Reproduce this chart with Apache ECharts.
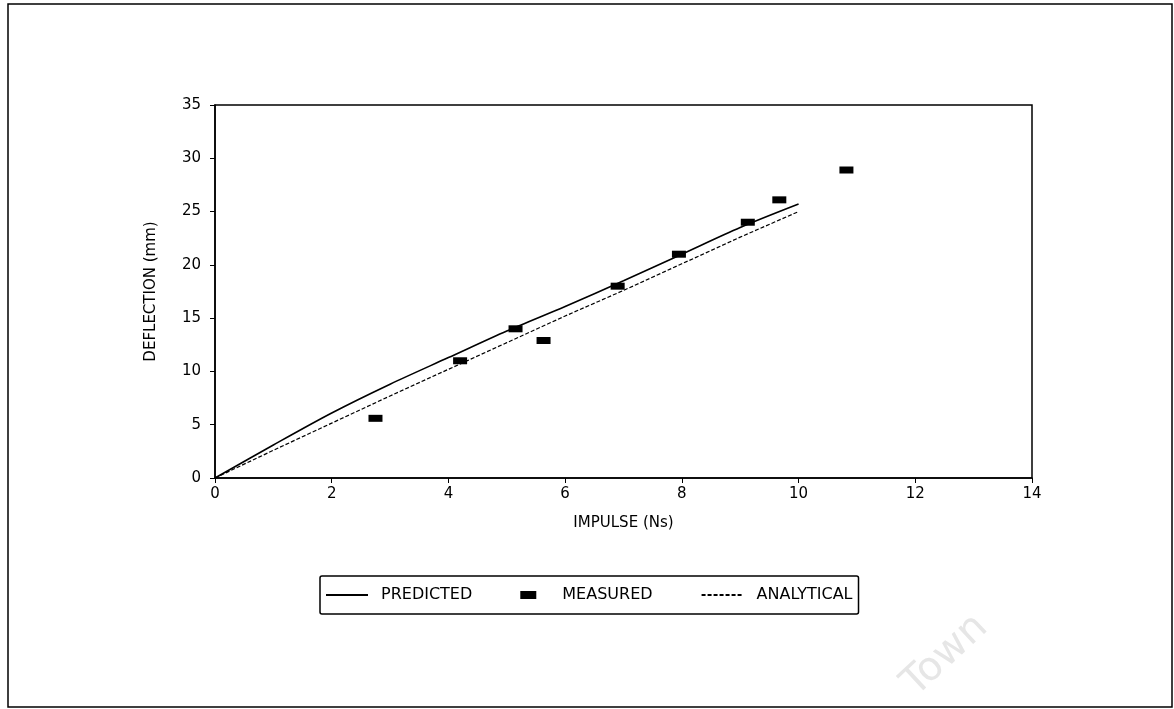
<!DOCTYPE html>
<html>
<head>
<meta charset="utf-8">
<script src="https://cdn.jsdelivr.net/npm/echarts@6/dist/echarts.min.js"></script>
<style>
html,body{margin:0;padding:0;background:#fff;}
#c{width:1174px;height:709px;}
</style>
</head>
<body>
<div id="c"></div>
<script>
const xTicks = [0, 2, 4, 6, 8, 10, 12, 14];
const yTicks = [0, 5, 10, 15, 20, 25, 30, 35];

const predictedX = [0, 1, 2, 3, 4, 5, 6, 7, 8, 9, 10];
const predictedY = [0, 3.1, 6.1, 8.8, 11.3, 13.8, 16.1, 18.5, 21.0, 23.5, 25.7];

const analyticalX = [0, 1, 2, 3, 4, 5, 6, 7, 8, 9, 10];
const analyticalY = [0, 2.6, 5.15, 7.7, 10.2, 12.7, 15.2, 17.6, 20.1, 22.6, 25.0];

const measuredX = [2.75, 4.2, 5.15, 5.63, 6.9, 7.95, 9.13, 9.67, 10.82];
const measuredY = [5.6, 11.0, 14.0, 12.9, 18.0, 21.0, 24.0, 26.1, 28.9];

const FONT = 'DejaVu Sans';
const chart = echarts.init(document.getElementById('c'), null, {renderer: 'canvas'});

function zip(a, b) { return a.map((v, i) => [v, b[i]]); }

const hiddenSymbol = {color: 'rgba(0,0,0,0)', borderColor: 'rgba(0,0,0,0)', borderWidth: 0};

chart.setOption({
  backgroundColor: '#ffffff',
  animation: false,
  textStyle: {fontFamily: FONT, color: '#000'},
  grid: {
    left: 215, right: 142, top: 105, bottom: 231,
    show: true, borderColor: '#000', borderWidth: 1.5, backgroundColor: 'transparent'
  },
  xAxis: {
    type: 'value', min: xTicks[0], max: xTicks[xTicks.length - 1], interval: 2,
    name: 'IMPULSE (Ns)', nameLocation: 'middle', nameGap: 38,
    nameTextStyle: {fontFamily: FONT, fontSize: 15, color: '#000'},
    axisLine: {show: true, lineStyle: {color: '#000', width: 1.5}},
    axisTick: {show: true, inside: false, length: 5, lineStyle: {color: '#000', width: 1}},
    axisLabel: {fontFamily: FONT, fontSize: 15, color: '#000', margin: 9},
    splitLine: {show: false}
  },
  yAxis: {
    type: 'value', min: yTicks[0], max: yTicks[yTicks.length - 1], interval: 5,
    name: 'DEFLECTION (mm)', nameLocation: 'middle', nameGap: 56, nameRotate: 90,
    nameTextStyle: {fontFamily: FONT, fontSize: 15, color: '#000'},
    axisLine: {show: true, lineStyle: {color: '#000', width: 1.5}},
    axisTick: {show: true, inside: false, length: 5, lineStyle: {color: '#000', width: 1}},
    axisLabel: {fontFamily: FONT, fontSize: 15, color: '#000', margin: 14},
    splitLine: {show: false}
  },
  legend: {
    left: 320, top: 576,
    orient: 'horizontal',
    padding: [11, 6, 11, 5],
    itemGap: 48,
    itemWidth: 42, itemHeight: 8,
    borderColor: '#000', borderWidth: 1.5, borderRadius: 2,
    textStyle: {fontFamily: FONT, fontSize: 16, color: '#000', padding: [0, 0, 0, 8]},
    data: [
      {name: 'PREDICTED', itemStyle: hiddenSymbol},
      {name: 'MEASURED', icon: 'path://M0,0 L14,0 L14,7 L0,7 Z', itemStyle: {color: '#000', opacity: 1}},
      {name: 'ANALYTICAL', itemStyle: hiddenSymbol}
    ]
  },
  graphic: [
    {type: 'rect', shape: {x: 8, y: 4, width: 1164, height: 703}, style: {fill: 'none', stroke: '#000', lineWidth: 1.5}, silent: true, z: -1},
    {type: 'text', x: 895, y: 675, rotation: Math.PI / 4.2, style: {text: 'Town', font: '40px "DejaVu Sans"', fill: '#e6e6e6'}, silent: true, z: -1}
  ],
  series: [
    {
      name: 'PREDICTED', type: 'line', data: zip(predictedX, predictedY),
      smooth: 0.3, showSymbol: false, symbol: 'none',
      lineStyle: {color: '#000', width: 1.6, type: 'solid'}, itemStyle: {color: '#000'}
    },
    {
      name: 'MEASURED', type: 'scatter', data: zip(measuredX, measuredY),
      symbol: 'rect', symbolSize: [14, 7], itemStyle: {color: '#000', opacity: 1}
    },
    {
      name: 'ANALYTICAL', type: 'line', data: zip(analyticalX, analyticalY),
      showSymbol: false, symbol: 'none',
      lineStyle: {color: '#000', width: 1.2, type: [4, 2]}, itemStyle: {color: '#000'}
    }
  ]
});
</script>
</body>
</html>
